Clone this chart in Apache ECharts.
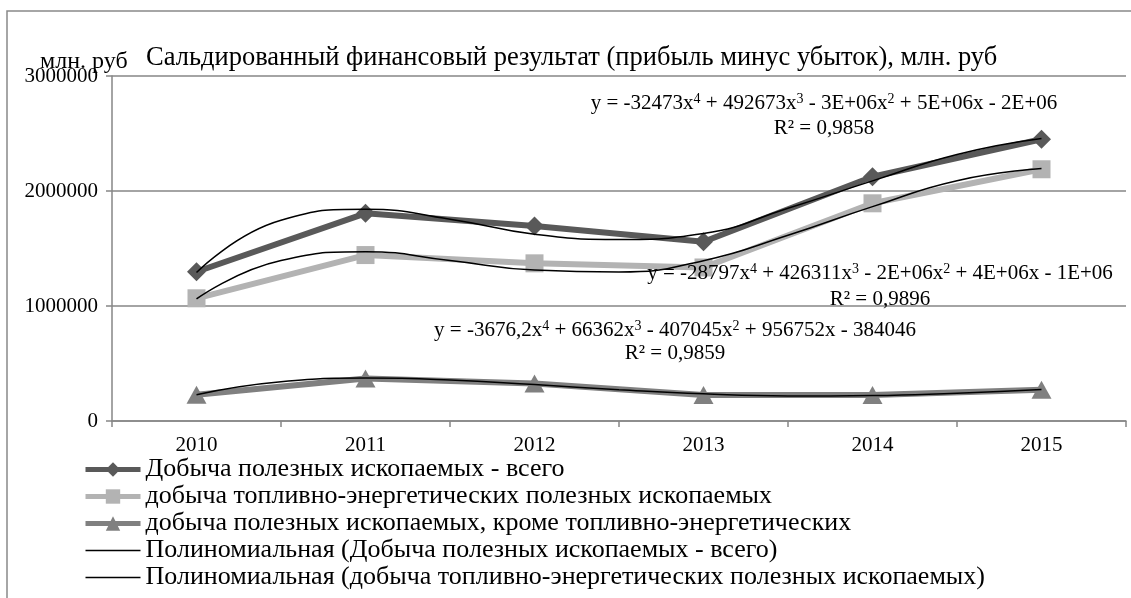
<!DOCTYPE html>
<html>
<head>
<meta charset="utf-8">
<script src="https://cdn.jsdelivr.net/npm/echarts@6/dist/echarts.min.js"></script>
<style>
html, body { margin: 0; padding: 0; background: #fff; }
#main { width: 1131px; height: 598px; }
</style>
</head>
<body>
<div id="main"></div>
<script>
// данные, млн. руб
var years = ['2010', '2011', '2012', '2013', '2014', '2015'];
var total = [1298000, 1806000, 1696000, 1559000, 2124000, 2450000];
var fuel = [1067000, 1443000, 1371000, 1335000, 1893000, 2189000];
var other = [229000, 369000, 326000, 227000, 226000, 272000];

var trendX = [2010, 2010.5, 2011, 2011.5, 2012, 2012.5, 2013, 2013.5, 2014, 2014.5, 2015];
var trendTotal = [1291000, 1745000, 1842000, 1755000, 1624000, 1578000, 1631000, 1850000, 2088000, 2318000, 2457000];
var trendFuel = [1061000, 1395000, 1472000, 1395000, 1312000, 1295000, 1394000, 1615000, 1864000, 2090000, 2195000];
var trendOther = [228000, 341000, 373000, 357000, 317000, 272000, 236000, 218000, 221000, 242000, 273000];

var names = [
	'Добыча полезных ископаемых - всего',
	'добыча топливно-энергетических полезных ископаемых',
	'добыча полезных ископаемых, кроме топливно-энергетических',
	'Полиномиальная (Добыча полезных ископаемых - всего)',
	'Полиномиальная (добыча топливно-энергетических полезных ископаемых)',
	'Полиномиальная (добыча полезных ископаемых, кроме топливно-энергетических)'
];
var equations = [
	'y = -32473x{s|4} + 492673x{s|3} - 3E+06x{s|2} + 5E+06x - 2E+06',
	'y = -28797x{s|4} + 426311x{s|3} - 2E+06x{s|2} + 4E+06x - 1E+06',
	'y = -3676,2x{s|4} + 66362x{s|3} - 407045x{s|2} + 956752x - 384046'
];
var r2 = ['R² = 0,9858', 'R² = 0,9896', 'R² = 0,9859'];

var FONT = 'Liberation Serif, Times New Roman, serif';
var GRAY = '#868686';

function pairs(xs, ys) {
	var out = [];
	for (var i = 0; i < xs.length; i++) out.push([xs[i], ys[i]]);
	return out;
}

// подписи уравнений
var eqPos = [[824, 103, 128], [880, 273, 299], [675, 330, 353]];
var labels = [];
for (var i = 0; i < equations.length; i++) {
	labels.push({
		type: 'text', x: eqPos[i][0], y: eqPos[i][1], z: 20,
		style: {
			text: equations[i], align: 'center', verticalAlign: 'middle',
			fontFamily: FONT, fontSize: 21, fill: '#000', lineHeight: 21,
			rich: { s: { fontFamily: FONT, fontSize: 14, lineHeight: 13, verticalAlign: 'top' } }
		}
	});
	labels.push({
		type: 'text', x: eqPos[i][0], y: eqPos[i][2], z: 20,
		style: { text: r2[i], align: 'center', verticalAlign: 'middle', fontFamily: FONT, fontSize: 21, fill: '#000' }
	});
}
labels.push({
	type: 'rect', z: -10, silent: true,
	shape: { x: 7, y: 11, width: 1200, height: 700 },
	style: { fill: 'none', stroke: '#898989', lineWidth: 1.5 }
});

// легенда: толстые линии у рядов, тонкие без маркера у трендов
var legendData = [];
for (var k = 0; k < 5; k++) {
	if (k < 3) legendData.push({ name: names[k], lineStyle: { width: 5 } });
	else legendData.push({ name: names[k], lineStyle: { width: 1.5 }, itemStyle: { opacity: 0 } });
}

var myChart = echarts.init(document.getElementById('main'));
myChart.setOption({
	animation: false,
	title: [{
		text: 'Сальдированный финансовый результат (прибыль минус убыток), млн. руб',
		left: 146, top: 45, padding: 0,
		textStyle: { fontFamily: FONT, fontSize: 26.5, fontWeight: 'normal', color: '#000' }
	}, {
		text: 'млн. руб',
		left: 40, top: 50, padding: 0,
		textStyle: { fontFamily: FONT, fontSize: 24, fontWeight: 'normal', color: '#000' }
	}],
	grid: { left: 112, right: 5, top: 76, bottom: 177, containLabel: false },
	legend: {
		orient: 'vertical', left: 83, top: 456, padding: 0,
		itemWidth: 55, itemHeight: 18, itemGap: 0,
		textStyle: { fontFamily: FONT, fontSize: 26, color: '#000', lineHeight: 27 },
		data: legendData
	},
	xAxis: [{
		type: 'category', data: years,
		axisLine: { lineStyle: { color: GRAY, width: 1.5 } },
		axisTick: { show: true, length: 6, lineStyle: { color: GRAY, width: 1.5 } },
		axisLabel: { fontFamily: FONT, fontSize: 21, color: '#000', margin: 14 },
		splitLine: { show: false }
	}, {
		type: 'value', min: 2009.5, max: 2015.5, show: false
	}],
	yAxis: {
		type: 'value', min: 0, max: 3000000, interval: 1000000,
		axisLine: { show: true, lineStyle: { color: GRAY, width: 1.5 } },
		axisTick: { show: true, length: 6, lineStyle: { color: GRAY, width: 1.5 } },
		axisLabel: {
			fontFamily: FONT, fontSize: 21, color: '#000', margin: 14,
			formatter: function(v) { return String(v); }
		},
		splitLine: { show: true, lineStyle: { color: GRAY, width: 1.5 } }
	},
	series: [{
		name: names[0], type: 'line', data: total, z: 3,
		color: '#595959', lineStyle: { width: 6 },
		symbol: 'diamond', symbolSize: 19, itemStyle: { color: '#595959' }
	}, {
		name: names[1], type: 'line', data: fuel, z: 2,
		color: '#b3b3b3', lineStyle: { width: 6 },
		symbol: 'rect', symbolSize: 18, itemStyle: { color: '#b3b3b3' }
	}, {
		name: names[2], type: 'line', data: other, z: 2,
		color: '#808080', lineStyle: { width: 6 },
		symbol: 'triangle', symbolSize: [20, 18], itemStyle: { color: '#808080' }
	}, {
		name: names[3], type: 'line', xAxisIndex: 1, data: pairs(trendX, trendTotal), z: 5,
		color: '#000', smooth: true, symbol: 'none', lineStyle: { width: 1.5, color: '#000' }
	}, {
		name: names[4], type: 'line', xAxisIndex: 1, data: pairs(trendX, trendFuel), z: 5,
		color: '#000', smooth: true, symbol: 'none', lineStyle: { width: 1.5, color: '#000' }
	}, {
		name: names[5], type: 'line', xAxisIndex: 1, data: pairs(trendX, trendOther), z: 5,
		color: '#000', smooth: true, symbol: 'none', lineStyle: { width: 1.5, color: '#000' }
	}],
	graphic: labels
});
</script>
</body>
</html>
